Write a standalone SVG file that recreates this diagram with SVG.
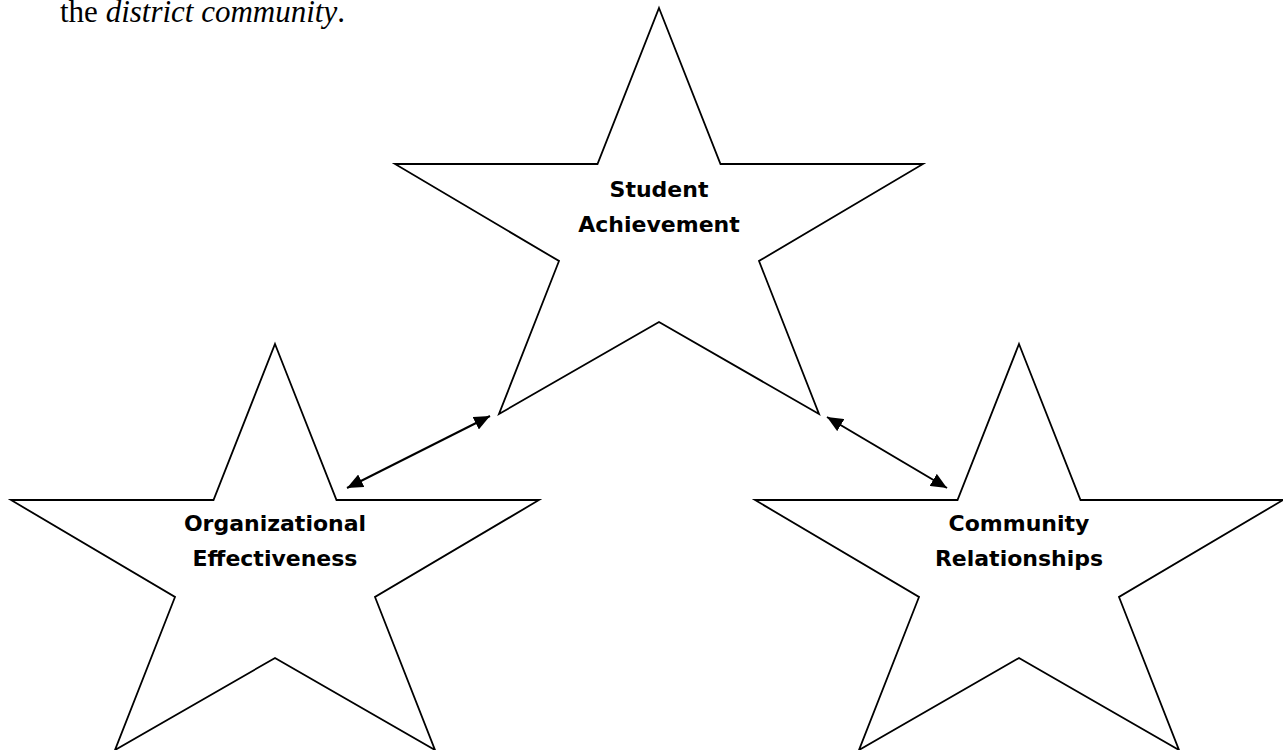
<svg xmlns="http://www.w3.org/2000/svg" width="1283" height="750" viewBox="0 0 1283 750">
  <style>
    .star { fill: #ffffff; stroke: #000000; stroke-width: 1.8; stroke-linejoin: miter; }
    .label { font-family: "Comic Sans MS", "DejaVu Sans", sans-serif; font-weight: bold; font-size: 22px; fill: #000000; text-anchor: middle; }
    .body { font-family: "Liberation Serif", "Times New Roman", serif; font-size: 31px; fill: #000000; }
    .link { stroke: #000000; stroke-width: 2; fill: none; marker-start: url(#head); marker-end: url(#head); }
  </style>
  <defs>
    <!-- five-pointed star, origin at the top point -->
    <polygon id="star" points="0,0 61.5,156 264,156 100,253 160,406 0,314 -160,406 -100,253 -264,156 -61.5,156"/>
    <marker id="head" viewBox="0 0 16 14" refX="16" refY="7" markerWidth="16" markerHeight="14" markerUnits="userSpaceOnUse" orient="auto-start-reverse">
      <path d="M0,0 L16,7 L0,14 Z" fill="#000000"/>
    </marker>
  </defs>

  <rect width="1283" height="750" fill="#ffffff"/>

  <text class="body" x="60" y="22">the <tspan font-style="italic">district community</tspan>.</text>

  <g id="student-achievement">
    <use href="#star" class="star" transform="translate(659,8)"/>
    <text class="label" x="659" y="197">Student</text>
    <text class="label" x="659" y="232">Achievement</text>
  </g>

  <g id="organizational-effectiveness">
    <use href="#star" class="star" transform="translate(275,344)"/>
    <text class="label" x="275" y="531">Organizational</text>
    <text class="label" x="275" y="566">Effectiveness</text>
  </g>

  <g id="community-relationships">
    <use href="#star" class="star" transform="translate(1019,344)"/>
    <text class="label" x="1019" y="531">Community</text>
    <text class="label" x="1019" y="566">Relationships</text>
  </g>

  <g id="connectors">
    <line class="link" x1="490" y1="416" x2="347" y2="488"/>
    <line class="link" x1="827" y1="417" x2="947" y2="488"/>
  </g>
</svg>
